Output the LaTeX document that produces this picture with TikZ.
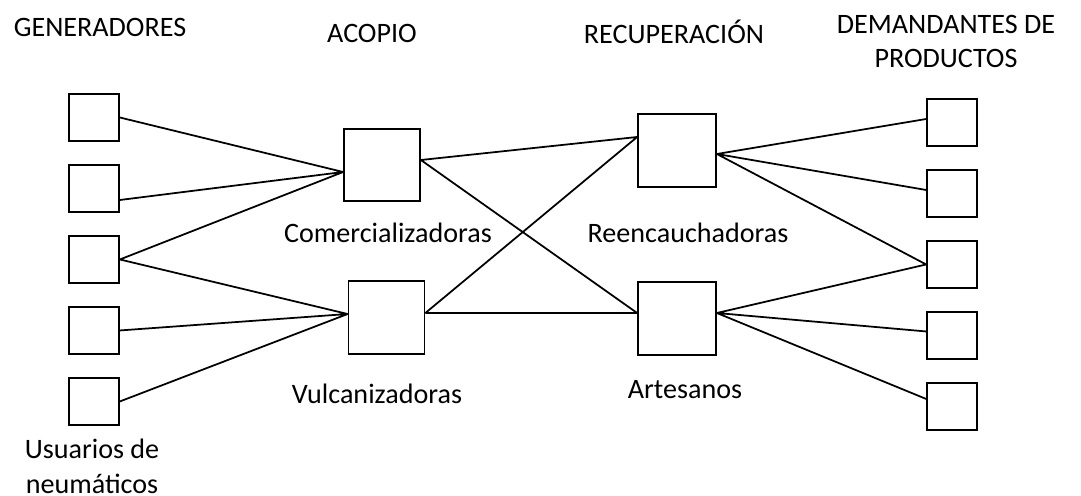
\documentclass[tikz,border=0pt]{standalone}
\usepackage{fontspec}
\setmainfont{Carlito}
\usetikzlibrary{positioning}
\tikzset{box/.style={draw, inner sep=0pt, minimum width=1cm, minimum height=0.94cm},
  bigbox/.style={box, minimum width=1.52cm, minimum height=1.45cm},
  lbl/.style={font=\fontsize{16}{19.8}\selectfont, align=center, inner sep=0pt, anchor=base}}

\begin{document}
\begin{tikzpicture}[x=0.02cm, y=-0.02cm, node distance=1.42cm, line width=1pt]
    \useasboundingbox (0,0) rectangle (1081,496);

    % generadores
    \node[box] (g1) at (94,117.5) {};
    \node[box] (g2) [below of=g1] {};
    \node[box] (g3) [below of=g2] {};
    \node[box] (g4) [below of=g3] {};
    \node[box] (g5) [below of=g4] {};
    \node[lbl] (usuarios) at (92,493) {Usuarios de\\neumáticos};

    % acopio
    \node[bigbox] (comer) at (382,165) {};
    \node[bigbox] (vulca) at (386.5,317.5) {};
    \node[lbl] (tcomer) at (388,243) {Comercializadoras};
    \node[lbl] (tvulca) at (377,403) {Vulcanizadoras};

    % recuperacion
    \node[bigbox, minimum width=1.56cm, minimum height=1.46cm] (reenc) at (677,150.5) {};
    \node[bigbox, minimum width=1.56cm, minimum height=1.46cm] (artes) at (677,318.5) {};
    \node[lbl] (treenc) at (688,243) {Reencauchadoras};
    \node[lbl] (tartes) at (685,398) {Artesanos};

    % demandantes
    \node[box] (d1) at (952,122.5) {};
    \node[box] (d2) [below of=d1] {};
    \node[box] (d3) [below of=d2] {};
    \node[box] (d4) [below of=d3] {};
    \node[box] (d5) [below of=d4] {};

    % titulos
    \node[lbl] (tgen) at (100,37) {GENERADORES};
    \node[lbl] (tacop) at (372,43) {ACOPIO};
    \node[lbl] (trecu) at (674,44) {RECUPERACIÓN};
    \node[lbl] (tdem) at (946,68) {DEMANDANTES DE\\PRODUCTOS};

    % puntos de llegada
    \coordinate (comin) at ([yshift=-0.14cm]comer.west);
    \coordinate (comout) at ([yshift=0.1cm]comer.east);
    \coordinate (vulin) at ([yshift=0.07cm]vulca.west);
    \coordinate (vulout) at ([yshift=0.09cm]vulca.east);
    \coordinate (reein) at ([yshift=0.27cm]reenc.west);
    \coordinate (reeout) at ([yshift=-0.07cm]reenc.east);
    \coordinate (artin) at ([yshift=0.11cm]artes.west);
    \coordinate (artout) at ([yshift=0.11cm]artes.east);

    \path[draw] (g1.east) -- (comin)
          ([yshift=-0.23cm]g2.east) -- (comin)
          (g3.east) -- (comin)
          (g3.east) -- (vulin)
          (g4.east) -- (vulin)
          (g5.east) -- (vulin);
    \path[draw] (comout) -- (reein)
          (comout) -- (artin)
          (vulout) -- (reein)
          (vulout) -- (artin);
    \path[draw] (reeout) -- ([yshift=0.07cm]d1.west)
          (reeout) -- ([yshift=0.07cm]d2.west)
          (reeout) -- (d3.west)
          (artout) -- (d3.west)
          (artout) -- ([yshift=0.08cm]d4.west)
          (artout) -- ([yshift=0.15cm]d5.west);
\end{tikzpicture}
\end{document}
